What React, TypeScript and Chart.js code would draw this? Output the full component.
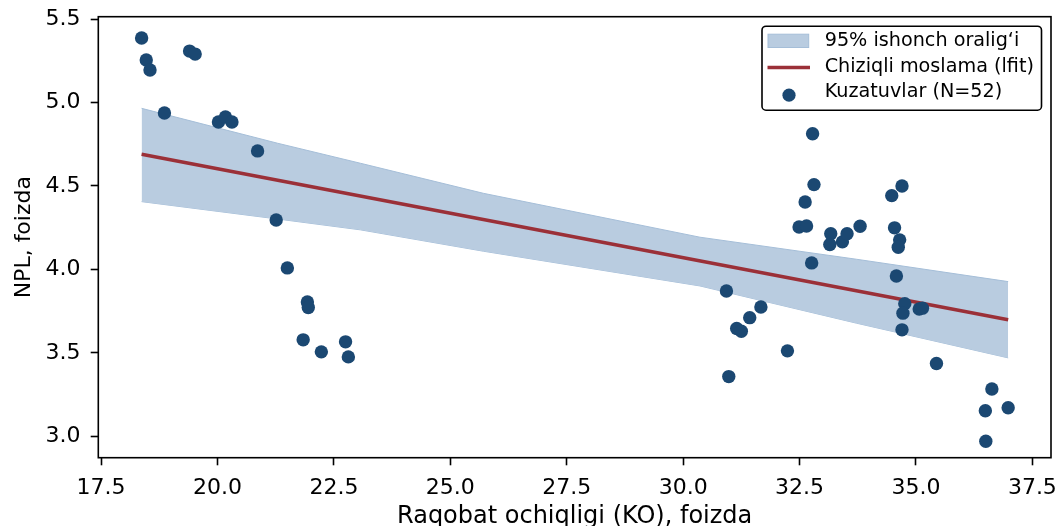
import { useEffect, useRef } from "react";
import { Chart, registerables } from "chart.js";

Chart.register(...registerables);

// Observations: competition openness (KO, %) and NPL (%)
const koValues = [
  18.37, 18.47, 18.55, 18.86, 19.4, 19.52, 20.02, 20.17, 20.31, 20.86, 21.26, 21.5, 21.93, 21.95, 21.84, 22.23, 22.75, 22.81,
  30.93, 30.98, 31.15, 31.25, 31.43, 31.67, 32.24, 32.49, 32.65, 32.62, 32.78, 32.81, 32.76, 33.17, 33.15, 33.42, 33.52, 33.8,
  34.48, 34.7, 34.54, 34.65, 34.62, 34.58, 34.76, 34.72, 35.07, 35.14, 34.7, 35.44, 36.63, 36.49, 36.98, 36.5,
];
const nplValues = [
  5.386, 5.255, 5.195, 4.937, 5.308, 5.29, 4.883, 4.913, 4.883, 4.71, 4.296, 4.009, 3.805, 3.772, 3.578, 3.506, 3.566, 3.476,
  3.871, 3.358, 3.646, 3.63, 3.711, 3.775, 3.512, 4.254, 4.26, 4.404, 4.813, 4.508, 4.039, 4.214, 4.149, 4.165, 4.214, 4.259,
  4.442, 4.5, 4.249, 4.177, 4.133, 3.961, 3.795, 3.738, 3.763, 3.768, 3.638, 3.436, 3.284, 3.153, 3.171, 2.971,
];

// Linear fit (lfit)
const fitX = [18.37, 36.98];
const fitY = [4.69, 3.698];

// 95% confidence band
const bandX = [18.37, 21.29, 23.07, 25.71, 30.36, 33.72, 36.98];
const bandUpper = [4.965, 4.756, 4.636, 4.456, 4.193, 4.061, 3.927];
const bandLower = [4.406, 4.302, 4.237, 4.109, 3.901, 3.678, 3.47];

const xTicks = [17.5, 20.0, 22.5, 25.0, 27.5, 30.0, 32.5, 35.0, 37.5];
const yTicks = [3.0, 3.5, 4.0, 4.5, 5.0, 5.5];

const xTitle = "Raqobat ochiqligi (KO), foizda";
const yTitle = "NPL, foizda";
const legendLabels = ["95% ishonch oralig\u2018i", "Chiziqli moslama (lfit)", "Kuzatuvlar (N=52)"];

const FONT = "'DejaVu Sans', 'Liberation Sans', sans-serif";
const DOT = "#1b4872";
const LINE = "#9b3038";
const BAND = "rgb(185,204,224)";
const BAND_EDGE = "rgba(165,190,216,1)";

const framePlugin = {
  id: "frame",
  afterDraw(chart: any) {
    const { ctx, chartArea: a } = chart;
    ctx.save();
    ctx.strokeStyle = "#000";
    ctx.lineWidth = 1.6;
    ctx.strokeRect(a.left, a.top, a.right - a.left, a.bottom - a.top);

    // legend
    const boxRight = a.right - 9.5;
    const boxLeft = boxRight - 279.5;
    const boxTop = a.top + 9.5;
    const boxH = 84;
    ctx.beginPath();
    (ctx as any).roundRect(boxLeft, boxTop, boxRight - boxLeft, boxH, 4);
    ctx.fillStyle = "#fff";
    ctx.fill();
    ctx.lineWidth = 1.6;
    ctx.strokeStyle = "#000";
    ctx.stroke();

    // patch
    ctx.fillStyle = BAND;
    ctx.fillRect(boxLeft + 6, boxTop + 8, 40.7, 13.3);
    ctx.strokeStyle = BAND_EDGE;
    ctx.lineWidth = 1;
    ctx.strokeRect(boxLeft + 6, boxTop + 8, 40.7, 13.3);
    // line
    ctx.beginPath();
    ctx.moveTo(boxLeft + 5.5, boxTop + 41.3);
    ctx.lineTo(boxLeft + 48, boxTop + 41.3);
    ctx.strokeStyle = LINE;
    ctx.lineWidth = 3.5;
    ctx.stroke();
    // dot
    ctx.beginPath();
    ctx.arc(boxLeft + 27, boxTop + 69, 6.6, 0, Math.PI * 2);
    ctx.fillStyle = DOT;
    ctx.fill();

    ctx.fillStyle = "#000";
    ctx.font = `19.2px ${FONT}`;
    ctx.textBaseline = "middle";
    ctx.textAlign = "left";
    const rows = [15, 41.2, 65.7];
    legendLabels.forEach((t, i) => ctx.fillText(t, boxLeft + 62.7, boxTop + rows[i]));
    ctx.restore();
  },
};

export default function App() {
  const ref = useRef<HTMLCanvasElement>(null);

  useEffect(() => {
    document.body.style.margin = "0";
    const canvas = ref.current;
    if (!canvas) return;
    Chart.defaults.font.family = FONT;

    const scatterData = koValues.map((x, i) => ({ x, y: nplValues[i] }));
    const fitData = fitX.map((x, i) => ({ x, y: fitY[i] }));
    const upperData = bandX.map((x, i) => ({ x, y: bandUpper[i] }));
    const lowerData = bandX.map((x, i) => ({ x, y: bandLower[i] }));

    const chart = new Chart(canvas, {
      type: "scatter",
      data: {
        datasets: [
          {
            label: legendLabels[2],
            data: scatterData,
            pointRadius: 6.7,
            pointHoverRadius: 6.7,
            backgroundColor: DOT,
            borderWidth: 0,
          } as any,
          {
            type: "line",
            label: legendLabels[1],
            data: fitData,
            showLine: true,
            borderColor: LINE,
            borderWidth: 3.5,
            pointRadius: 0,
            fill: false,
            tension: 0,
          } as any,
          {
            type: "line",
            label: "upper",
            data: upperData,
            showLine: true,
            borderColor: BAND_EDGE,
            borderWidth: 1,
            pointRadius: 0,
            backgroundColor: BAND,
            fill: "+1",
            tension: 0,
          } as any,
          {
            type: "line",
            label: "lower",
            data: lowerData,
            showLine: true,
            borderColor: BAND_EDGE,
            borderWidth: 1,
            pointRadius: 0,
            fill: false,
            tension: 0,
          } as any,
        ],
      },
      options: {
        animation: false,
        responsive: true,
        maintainAspectRatio: false,
        events: [],
        layout: { padding: { left: 0, right: 8, top: 16.7, bottom: 0 } },
        plugins: {
          legend: { display: false },
          tooltip: { enabled: false },
        },
        scales: {
          x: {
            type: "linear",
            min: 17.44,
            max: 37.9,
            afterBuildTicks: (s: any) => {
              s.ticks = xTicks.map((v) => ({ value: v }));
            },
            afterFit: (s: any) => {
              s.height = 68.3;
              s.paddingLeft = 0;
              s.paddingRight = 0;
              s.paddingTop = 0;
              s.paddingBottom = 0;
            },
            ticks: {
              callback: (v: any) => Number(v).toFixed(1),
              font: { family: FONT, size: 22 },
              color: "#000",
              padding: 9.5,
              maxRotation: 0,
              autoSkip: false,
            },
            grid: {
              drawOnChartArea: false,
              drawTicks: true,
              tickLength: 7.6,
              tickWidth: 1.6,
              tickColor: "#000",
            },
            border: { display: false },
            title: {
              display: true,
              text: xTitle,
              color: "#000",
              font: { family: FONT, size: 24, lineHeight: 0.8 },
              padding: { top: 0, bottom: 0 },
            },
          },
          y: {
            type: "linear",
            min: 2.872,
            max: 5.514,
            afterBuildTicks: (s: any) => {
              s.ticks = yTicks.map((v) => ({ value: v }));
            },
            afterFit: (s: any) => {
              s.width = 98.3;
              s.paddingLeft = 0;
              s.paddingRight = 0;
              s.paddingTop = 0;
              s.paddingBottom = 0;
            },
            ticks: {
              callback: (v: any) => Number(v).toFixed(1),
              font: { family: FONT, size: 22 },
              color: "#000",
              padding: 10.2,
            },
            grid: {
              drawOnChartArea: false,
              drawTicks: true,
              tickLength: 7.6,
              tickWidth: 1.6,
              tickColor: "#000",
            },
            border: { display: false },
            title: {
              display: true,
              text: yTitle,
              color: "#000",
              font: { family: FONT, size: 22, lineHeight: 1.2 },
              padding: { top: 11, bottom: 0 },
            },
          },
        },
      },
      plugins: [framePlugin],
    });

    return () => chart.destroy();
  }, []);

  return (
    <div style={{ position: "absolute", left: 0, top: 0, width: 1059, height: 526 }}>
      <canvas ref={ref} />
    </div>
  );
}
